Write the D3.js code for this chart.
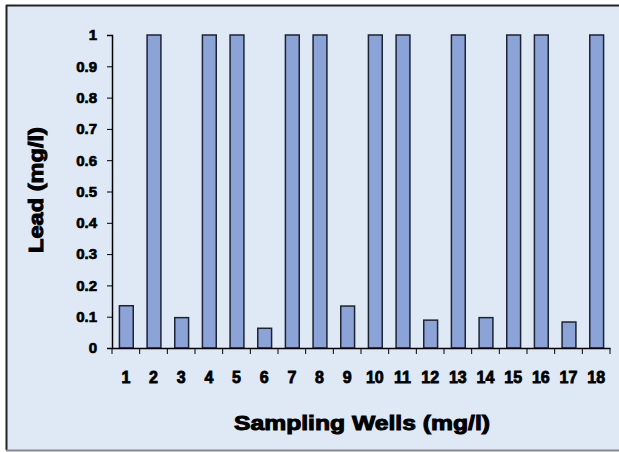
<!DOCTYPE html>
<html>
<head>
<meta charset="utf-8">
<script src="https://cdn.jsdelivr.net/npm/d3@7"></script>
<style>
  body { margin: 0; background: #fff; }
  text { font-family: "Liberation Sans", Arial, sans-serif; font-weight: bold; fill: #000; stroke: #000; }
</style>
</head>
<body>
<div id="chart"></div>
<script>
// data
var wells = ["1","2","3","4","5","6","7","8","9","10","11","12","13","14","15","16","17","18"];
var lead = [0.135, 1, 0.097, 1, 1, 0.063, 1, 1, 0.134, 1, 1, 0.089, 1, 0.097, 1, 1, 0.083, 1];
var yTicks = [0, 0.1, 0.2, 0.3, 0.4, 0.5, 0.6, 0.7, 0.8, 0.9, 1];

var W = 619, H = 452;
var margin = {top: 35, right: 9, bottom: 104, left: 112},
    width = W - margin.left - margin.right,
    height = H - margin.top - margin.bottom;

var root = d3.select("#chart").append("svg")
    .attr("width", W)
    .attr("height", H);

// frame + light blue background
root.append("rect")
    .attr("x", 6).attr("y", 5)
    .attr("width", W - 6).attr("height", 445)
    .attr("fill", "#dfe9f5");
root.append("line").attr("x1", 6.5).attr("x2", 6.5).attr("y1", 5).attr("y2", 450)
    .attr("stroke", "#222").attr("stroke-width", 2);
root.append("line").attr("x1", 6).attr("x2", W).attr("y1", 5.5).attr("y2", 5.5)
    .attr("stroke", "#222").attr("stroke-width", 2);
root.append("line").attr("x1", 6).attr("x2", W).attr("y1", 450.5).attr("y2", 450.5)
    .attr("stroke", "#888").attr("stroke-width", 2);

var svg = root.append("g")
    .attr("transform", "translate(" + margin.left + "," + margin.top + ")");

var x = d3.scaleBand()
    .domain(wells)
    .range([0, width])
    .paddingInner(0.5)
    .paddingOuter(0.25);

var y = d3.scaleLinear()
    .domain([0, 1])
    .range([height, 0]);

// bars
svg.append("g")
  .selectAll("rect")
  .data(lead)
  .enter()
  .append("rect")
    .attr("x", function (d, i) { return x(wells[i]) + 0.5; })
    .attr("y", function (d) { return y(d); })
    .attr("width", x.bandwidth())
    .attr("height", function (d) { return height - y(d); })
    .attr("fill", "#8ca3d8")
    .attr("stroke", "#1c2333")
    .attr("stroke-width", 1.5);

// Y axis
var yAxis = svg.append("g")
    .call(d3.axisLeft(y).tickValues(yTicks).tickSize(5).tickSizeOuter(5)
      .tickFormat(function (d) { return d === 0 || d === 1 ? d : d3.format(".1f")(d); }));
yAxis.selectAll("text").attr("font-size", 15).attr("x", -15).attr("stroke-width", 0.7);

// X axis with ticks between categories
var xAxis = svg.append("g")
    .attr("transform", "translate(0," + height + ")")
    .call(d3.axisBottom(x).tickSize(0).tickSizeOuter(0));
xAxis.selectAll("text").attr("font-size", 16).attr("y", 24).attr("dy", "0.71em")
    .attr("stroke-width", 0.8);
var step = x.step();
xAxis.selectAll(".sep")
  .data(d3.range(wells.length + 1))
  .enter()
  .append("line")
    .attr("class", "sep")
    .attr("x1", function (d) { return d * step; })
    .attr("x2", function (d) { return d * step; })
    .attr("y1", 0).attr("y2", 6)
    .attr("stroke", "#000");

svg.selectAll(".domain").attr("stroke", "#000").attr("stroke-width", 1.5);
svg.selectAll(".tick line").attr("stroke", "#000");

// titles
root.append("text")
    .attr("x", 362)
    .attr("y", 430)
    .attr("text-anchor", "middle")
    .attr("font-size", 21)
    .attr("stroke-width", 1)
    .attr("textLength", 256)
    .attr("lengthAdjust", "spacingAndGlyphs")
    .text("Sampling Wells (mg/l)");

root.append("text")
    .attr("transform", "translate(43,190) rotate(-90)")
    .attr("text-anchor", "middle")
    .attr("font-size", 21)
    .attr("stroke-width", 1)
    .attr("textLength", 126)
    .attr("lengthAdjust", "spacingAndGlyphs")
    .text("Lead (mg/l)");
</script>
</body>
</html>
